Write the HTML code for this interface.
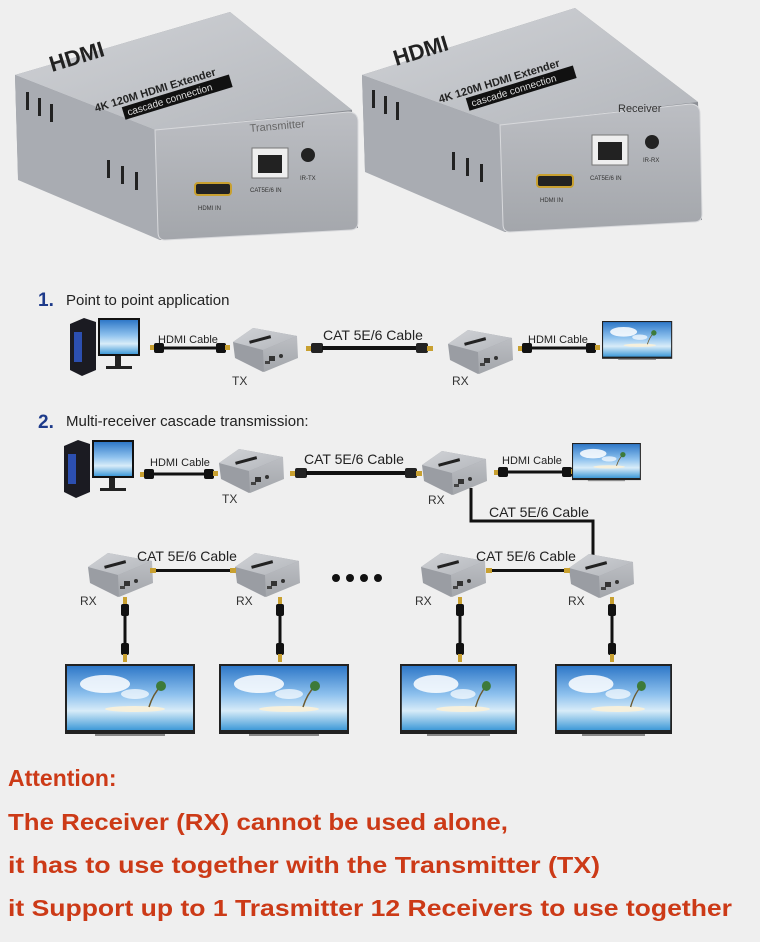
<!DOCTYPE html>
<html><head><meta charset="utf-8"><style>
html,body{margin:0;padding:0;background:#efefef;}
svg{display:block}
text{font-family:"Liberation Sans",sans-serif}
</style></head><body>
<svg width="760" height="942" viewBox="0 0 760 942" xmlns="http://www.w3.org/2000/svg">
<defs>
<linearGradient id="top" x1="0" y1="0" x2="1" y2="1"><stop offset="0" stop-color="#d0d2d6"/><stop offset="1" stop-color="#b4b7bc"/></linearGradient>
<linearGradient id="front" x1="0" y1="0" x2="0" y2="1"><stop offset="0" stop-color="#bcbec3"/><stop offset="1" stop-color="#a3a6ab"/></linearGradient>
<linearGradient id="scr" x1="0" y1="0" x2="0" y2="1"><stop offset="0" stop-color="#2f78c8"/><stop offset="0.45" stop-color="#8fc2ee"/><stop offset="0.7" stop-color="#d8ecf8"/><stop offset="1" stop-color="#3f9ad8"/></linearGradient>
<g id="dev">
 <polygon points="0,14 20,0 64,8 64,30 30,44 2,30" fill="#9a9da3"/>
 <polygon points="0,14 20,0 64,8 30,22" fill="url(#top)"/>
 <polygon points="30,22 64,8 65,30 31,44" fill="url(#front)"/>
 <rect x="16" y="10" width="22" height="3" fill="#222" transform="rotate(-15 27 11)"/>
 <rect x="36" y="28" width="6" height="5" fill="#333"/>
 <rect x="46" y="26" width="4" height="4" rx="2" fill="#333"/>
 <rect x="32" y="33" width="5" height="3" fill="#444"/>
</g>
<g id="tv">
 <rect x="0" y="0" width="130" height="70" fill="#222"/>
 <rect x="2" y="2" width="126" height="64" fill="url(#scr)"/>
 <ellipse cx="40" cy="20" rx="25" ry="9" fill="#fff" opacity="0.85"/>
 <ellipse cx="70" cy="30" rx="14" ry="5" fill="#fff" opacity="0.7"/>
 <ellipse cx="70" cy="45" rx="30" ry="3" fill="#f6f0dc"/>
 <path d="M84 43 Q88 30 96 22" stroke="#6b5a30" stroke-width="1.5" fill="none"/>
 <circle cx="96" cy="22" r="5" fill="#3d7a3a"/>
 <rect x="30" y="70" width="70" height="2" fill="#888"/>
</g>
<g id="vcab">
 <rect x="-2" y="0" width="4" height="8" fill="#c8a030"/>
 <rect x="-4" y="7" width="8" height="12" rx="2" fill="#111"/>
 <rect x="-1.5" y="18" width="3" height="30" fill="#111"/>
 <rect x="-4" y="46" width="8" height="12" rx="2" fill="#111"/>
 <rect x="-2" y="57" width="4" height="8" fill="#c8a030"/>
</g>
<g id="pc">
 <polygon points="0,6 14,0 26,4 26,52 12,58 0,52" fill="#1b1b22"/>
 <rect x="4" y="14" width="8" height="30" fill="#2c4fb0"/>
 <rect x="28" y="0" width="42" height="38" fill="#111"/>
 <rect x="30" y="2" width="38" height="34" fill="url(#scr)"/>
 <rect x="45" y="38" width="6" height="10" fill="#222"/>
 <rect x="36" y="48" width="26" height="3" fill="#222"/>
</g>
</defs>
<rect width="760" height="942" fill="#efefef"/>

<!-- big transmitter -->
<g>
 <polygon points="15,75 230,12 352,110 358,228 160,240 18,175" fill="#8c8f95"/>
 <polygon points="15,75 230,12 352,110 155,130" fill="url(#top)"/>
 <polygon points="15,75 155,130 160,240 18,180" fill="#a9acb2"/>
 <path d="M155,130 L348,112 Q358,112 358,122 L358,222 Q358,230 350,230 L165,240 Q158,240 158,232 Z" fill="url(#front)" stroke="#d8d9dc"/>
 <text x="52" y="72" font-size="22" font-weight="bold" fill="#222" transform="rotate(-17 52 72)">HDMI</text>
 <g transform="rotate(-17 96 112)">
  <text x="96" y="112" font-size="11" font-weight="bold" fill="#222">4K 120M HDMI Extender</text>
  <rect x="122" y="115" width="112" height="13" fill="#111"/>
  <text x="126" y="125" font-size="10" fill="#ddd">cascade connection</text>
 </g>
 <text x="250" y="132" font-size="11" fill="#666" transform="rotate(-5 250 132)">Transmitter</text>
 <rect x="252" y="148" width="36" height="30" fill="#eee" stroke="#777"/>
 <rect x="258" y="155" width="24" height="18" fill="#222"/>
 <circle cx="308" cy="155" r="7" fill="#222"/>
 <rect x="195" y="183" width="36" height="12" rx="3" fill="#222" stroke="#c8a030" stroke-width="2"/>
 <text x="198" y="210" font-size="6" fill="#333">HDMI IN</text>
 <text x="250" y="192" font-size="6" fill="#333">CAT5E/6 IN</text>
 <text x="300" y="180" font-size="6" fill="#333">IR-TX</text>
 <g fill="#222"><rect x="26" y="92" width="3" height="18"/><rect x="38" y="98" width="3" height="18"/><rect x="50" y="104" width="3" height="18"/><rect x="107" y="160" width="3" height="18"/><rect x="121" y="166" width="3" height="18"/><rect x="135" y="172" width="3" height="18"/></g>
</g>
<!-- big receiver -->
<g>
 <polygon points="362,75 575,8 698,102 702,220 505,232 365,170" fill="#8c8f95"/>
 <polygon points="362,75 575,8 698,102 500,125" fill="url(#top)"/>
 <polygon points="362,75 500,125 505,232 365,172" fill="#a9acb2"/>
 <path d="M500,125 L690,104 Q700,104 700,114 L702,214 Q702,222 694,222 L510,232 Q503,232 503,224 Z" fill="url(#front)" stroke="#d8d9dc"/>
 <text x="396" y="66" font-size="22" font-weight="bold" fill="#222" transform="rotate(-17 396 66)">HDMI</text>
 <g transform="rotate(-17 440 103)">
  <text x="440" y="103" font-size="11" font-weight="bold" fill="#222">4K 120M HDMI Extender</text>
  <rect x="466" y="106" width="112" height="13" fill="#111"/>
  <text x="470" y="116" font-size="10" fill="#ddd">cascade connection</text>
 </g>
 <text x="618" y="112" font-size="11" fill="#333">Receiver</text>
 <rect x="592" y="135" width="36" height="30" fill="#eee" stroke="#777"/>
 <rect x="598" y="142" width="24" height="18" fill="#222"/>
 <circle cx="652" cy="142" r="7" fill="#222"/>
 <rect x="537" y="175" width="36" height="12" rx="3" fill="#222" stroke="#c8a030" stroke-width="2"/>
 <text x="540" y="202" font-size="6" fill="#333">HDMI IN</text>
 <text x="590" y="180" font-size="6" fill="#333">CAT5E/6 IN</text>
 <text x="643" y="162" font-size="6" fill="#333">IR-RX</text>
 <g fill="#222"><rect x="372" y="90" width="3" height="18"/><rect x="384" y="96" width="3" height="18"/><rect x="396" y="102" width="3" height="18"/><rect x="452" y="152" width="3" height="18"/><rect x="466" y="158" width="3" height="18"/><rect x="480" y="164" width="3" height="18"/></g>
</g>

<!-- section 1 -->
<text x="38" y="306" font-size="19" font-weight="bold" fill="#1d3a8a" font-family="Liberation Serif">1.</text>
<text x="66" y="305" font-size="15" fill="#222">Point to point application</text>
<use href="#pc" x="70" y="318"/>
<rect x="150" y="345" width="5" height="5" fill="#c8a030"/><rect x="154" y="343" width="10" height="10" rx="2" fill="#111"/>
<rect x="163" y="346.5" width="54" height="3" fill="#111"/>
<rect x="216" y="343" width="10" height="10" rx="2" fill="#111"/><rect x="225" y="345" width="5" height="5" fill="#c8a030"/>
<text x="158" y="343" font-size="11" fill="#222">HDMI Cable</text>
<use href="#dev" x="233" y="328"/>
<text x="232" y="385" font-size="12" fill="#333">TX</text>
<rect x="306" y="346" width="6" height="5" fill="#c8a030"/><rect x="311" y="343" width="12" height="10" rx="2" fill="#222"/>
<rect x="322" y="346" width="94" height="4" fill="#111"/>
<rect x="416" y="343" width="12" height="10" rx="2" fill="#222"/><rect x="427" y="346" width="6" height="5" fill="#c8a030"/>
<text x="323" y="340" font-size="14" fill="#222">CAT 5E/6 Cable</text>
<use href="#dev" x="448" y="330"/>
<text x="452" y="385" font-size="12" fill="#333">RX</text>
<rect x="518" y="346" width="5" height="5" fill="#c8a030"/><rect x="522" y="343" width="10" height="10" rx="2" fill="#111"/>
<rect x="531" y="346.5" width="56" height="3" fill="#111"/>
<rect x="586" y="343" width="10" height="10" rx="2" fill="#111"/><rect x="595" y="345" width="5" height="5" fill="#c8a030"/>
<text x="528" y="343" font-size="11" fill="#222">HDMI Cable</text>
<g transform="translate(602,321) scale(0.54)"><use href="#tv"/></g>

<!-- section 2 -->
<text x="38" y="428" font-size="19" font-weight="bold" fill="#1d3a8a" font-family="Liberation Serif">2.</text>
<text x="66" y="426" font-size="15" fill="#222">Multi-receiver cascade transmission:</text>
<use href="#pc" x="64" y="440"/>
<rect x="140" y="472" width="5" height="5" fill="#c8a030"/><rect x="144" y="469" width="10" height="10" rx="2" fill="#111"/>
<rect x="153" y="472.5" width="52" height="3" fill="#111"/>
<rect x="204" y="469" width="10" height="10" rx="2" fill="#111"/><rect x="213" y="471" width="5" height="5" fill="#c8a030"/>
<text x="150" y="466" font-size="11" fill="#222">HDMI Cable</text>
<use href="#dev" x="219" y="449"/>
<text x="222" y="503" font-size="12" fill="#333">TX</text>
<rect x="290" y="471" width="6" height="5" fill="#c8a030"/><rect x="295" y="468" width="12" height="10" rx="2" fill="#222"/>
<rect x="306" y="471" width="102" height="4" fill="#111"/>
<rect x="405" y="468" width="12" height="10" rx="2" fill="#222"/><rect x="416" y="471" width="6" height="5" fill="#c8a030"/>
<text x="304" y="464" font-size="14" fill="#222">CAT 5E/6 Cable</text>
<use href="#dev" x="422" y="451"/>
<text x="428" y="504" font-size="12" fill="#333">RX</text>
<rect x="494" y="470" width="5" height="5" fill="#c8a030"/><rect x="498" y="467" width="10" height="10" rx="2" fill="#111"/>
<rect x="507" y="470.5" width="56" height="3" fill="#111"/>
<rect x="562" y="467" width="10" height="10" rx="2" fill="#111"/><rect x="571" y="469" width="5" height="5" fill="#c8a030"/>
<text x="502" y="464" font-size="11" fill="#222">HDMI Cable</text>
<g transform="translate(572,443) scale(0.53)"><use href="#tv"/></g>
<path d="M471,488 L471,521 L593,521 L593,555" stroke="#111" stroke-width="3" fill="none"/>
<text x="489" y="517" font-size="14" fill="#222">CAT 5E/6 Cable</text>

<!-- row 3 -->
<use href="#dev" x="88" y="553"/>
<use href="#dev" x="235" y="553"/>
<use href="#dev" x="421" y="553"/>
<use href="#dev" x="569" y="554"/>
<rect x="152" y="569" width="80" height="3" fill="#111"/>
<rect x="150" y="568" width="6" height="5" fill="#c8a030"/><rect x="230" y="568" width="6" height="5" fill="#c8a030"/>
<rect x="488" y="569" width="78" height="3" fill="#111"/>
<rect x="486" y="568" width="6" height="5" fill="#c8a030"/><rect x="564" y="568" width="6" height="5" fill="#c8a030"/>
<text x="137" y="561" font-size="14" fill="#222">CAT 5E/6 Cable</text>
<text x="476" y="561" font-size="14" fill="#222">CAT 5E/6 Cable</text>
<g fill="#111"><circle cx="336" cy="578" r="4"/><circle cx="350" cy="578" r="4"/><circle cx="364" cy="578" r="4"/><circle cx="378" cy="578" r="4"/></g>
<text x="80" y="605" font-size="12" fill="#333">RX</text>
<text x="236" y="605" font-size="12" fill="#333">RX</text>
<text x="415" y="605" font-size="12" fill="#333">RX</text>
<text x="568" y="605" font-size="12" fill="#333">RX</text>
<use href="#vcab" x="125" y="597"/>
<use href="#vcab" x="280" y="597"/>
<use href="#vcab" x="460" y="597"/>
<use href="#vcab" x="612" y="597"/>
<use href="#tv" x="65" y="664"/>
<use href="#tv" x="219" y="664"/>
<g transform="translate(400,664) scale(0.9,1)"><use href="#tv"/></g>
<g transform="translate(555,664) scale(0.9,1)"><use href="#tv"/></g>

<!-- attention -->
<g font-weight="bold" fill="#cc3a17" font-size="23">
<text x="8" y="786">Attention:</text>
<text x="8" y="830" textLength="500" lengthAdjust="spacingAndGlyphs">The Receiver (RX) cannot be used alone,</text>
<text x="8" y="873" textLength="592" lengthAdjust="spacingAndGlyphs">it has to use together with the Transmitter (TX)</text>
<text x="8" y="916" textLength="724" lengthAdjust="spacingAndGlyphs">it Support up to 1 Trasmitter 12 Receivers to use together</text>
</g>
</svg>
</body></html>
